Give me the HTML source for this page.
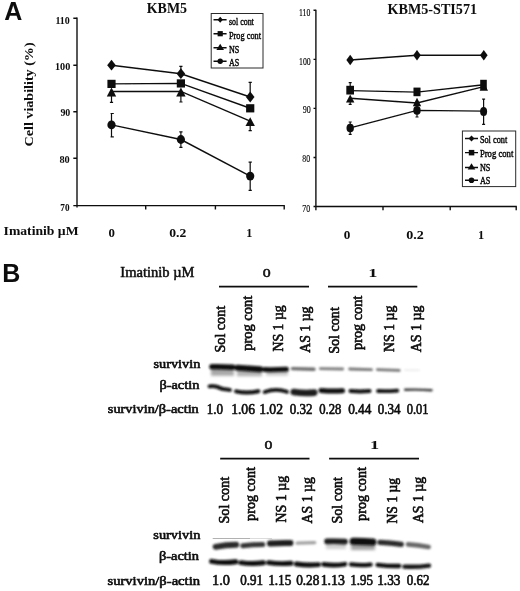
<!DOCTYPE html>
<html>
<head>
<meta charset="utf-8">
<title>Figure</title>
<style>
html,body{margin:0;padding:0;background:#fff;}
body{width:520px;height:591px;overflow:hidden;font-family:"Liberation Serif",serif;}
svg{display:block;}
svg text{font-family:"Liberation Serif",serif;fill:#0a0a0a;}
.sans{font-family:"Liberation Sans",sans-serif;font-weight:bold;}
.b{font-weight:bold;}
.tx text{stroke:#0a0a0a;stroke-width:0.6;stroke-linejoin:round;}
.lt text{stroke:#0a0a0a;stroke-width:0.45;}
.rt text{stroke:#0a0a0a;stroke-width:0.15;}
.ln{stroke:#111;stroke-width:1.45;fill:none;}
.eb{stroke:#111;stroke-width:1.2;fill:none;}
.ax{stroke:#111;stroke-width:1.4;fill:none;}
.mk{fill:#0c0c0c;stroke:none;}
</style>
</head>
<body>
<svg id="fig" width="520" height="591" viewBox="0 0 520 591">
<defs>
<filter id="bl1" x="-20%" y="-200%" width="140%" height="500%"><feGaussianBlur stdDeviation="0.9"/></filter>
<filter id="bl2" x="-20%" y="-200%" width="140%" height="500%"><feGaussianBlur stdDeviation="1.6"/></filter>
<filter id="tb" x="-10%" y="-10%" width="120%" height="120%"><feGaussianBlur stdDeviation="0.35"/></filter>
<filter id="soft" x="0" y="0" width="520" height="591" filterUnits="userSpaceOnUse"><feGaussianBlur stdDeviation="0.38"/></filter>
</defs>
<rect x="0" y="0" width="520" height="591" fill="#ffffff"/>
<g id="all" filter="url(#soft)">

<!-- ================= PANEL A : LEFT CHART ================= -->
<g id="chartL">
<text class="sans" x="4.2" y="19.7" font-size="25">A</text>
<text class="b" x="146.8" y="12.5" font-size="14.2" textLength="40.2" lengthAdjust="spacingAndGlyphs">KBM5</text>
<!-- axes -->
<path class="ax" d="M77 17.6 V207.4 M77 205.6 H284.8"/>
<path class="ax" d="M77 18.3 h-3.7 M77 65.2 h-3.7 M77 111.8 h-3.7 M77 158.3 h-3.7 M77 205.6 h-3.7"/>
<path class="ax" d="M145.7 205.6 v3.8 M215.4 205.6 v3.8 M284.2 205.6 v3.8"/>
<!-- y labels -->
<g class="b" font-size="11.2">
<text x="55.4" y="23.6" textLength="14.4" lengthAdjust="spacingAndGlyphs">110</text>
<text x="55" y="69.7" textLength="15.3" lengthAdjust="spacingAndGlyphs">100</text>
<text x="60.4" y="116.1" textLength="9.9" lengthAdjust="spacingAndGlyphs">90</text>
<text x="59.4" y="163.1" textLength="10.3" lengthAdjust="spacingAndGlyphs">80</text>
<text x="60.3" y="210.6" textLength="9.2" lengthAdjust="spacingAndGlyphs">70</text>
</g>
<text class="b" font-size="13.5" transform="translate(32.6 146.4) rotate(-90)" textLength="104" lengthAdjust="spacingAndGlyphs">Cell viability (%)</text>
<!-- x labels -->
<g class="b" font-size="12">
<text x="3.6" y="234.5" font-size="13.5" textLength="75" lengthAdjust="spacingAndGlyphs">Imatinib µM</text>
<text x="111.6" y="237.2" text-anchor="middle" font-size="12.2" textLength="6.4" lengthAdjust="spacingAndGlyphs">0</text>
<text x="177.7" y="237.2" text-anchor="middle" font-size="12.2" textLength="17" lengthAdjust="spacingAndGlyphs">0.2</text>
<text x="249.3" y="237.2" text-anchor="middle" font-size="12.2">1</text>
</g>
<!-- series lines -->
<path class="ln" d="M111.5 65.2 L180.9 73.7 L250.2 97"/>
<path class="ln" d="M111.5 83.9 L180.9 83.4 L250.2 108.3"/>
<path class="ln" d="M111.5 91.4 L180.9 91.4 L250.2 121.2"/>
<path class="ln" d="M111.5 124.9 L180.9 139.5 L250.2 176.1"/>
<!-- error bars -->
<path class="eb" d="M111.5 91 V102.3 M109.9 102.3 h3.2"/>
<path class="eb" d="M180.9 66.4 V73 M179.3 66.4 h3.2  M180.9 92 V102 M179.3 102 h3.2"/>
<path class="eb" d="M250.2 82.3 V97 M248.6 82.3 h3.2  M250.2 121 V130.6 M248.6 130.6 h3.2"/>
<path class="eb" d="M111.5 113.5 V136.8 M110.6 113.5 h3.2 M110.6 136.8 h3.2"/>
<path class="eb" d="M180.9 131.8 V147.3 M179.3 131.8 h3.2 M179.3 147.3 h3.2"/>
<path class="eb" d="M250.2 162.2 V190.4 M248.6 162.2 h3.2 M248.6 190.4 h3.2"/>
<!-- markers -->
<g class="mk">
<path d="M111.5 59.8 l4.3 5.4 l-4.3 5.4 l-4.3 -5.4z"/>
<path d="M180.9 68.3 l4.3 5.4 l-4.3 5.4 l-4.3 -5.4z"/>
<path d="M250.2 91.6 l4.3 5.4 l-4.3 5.4 l-4.3 -5.4z"/>
<rect x="107.4" y="79.8" width="8.2" height="8.2"/>
<rect x="176.8" y="79.3" width="8.2" height="8.2"/>
<rect x="246.1" y="104.2" width="8.2" height="8.2"/>
<path d="M111.5 87.6 l4.7 8.8 h-9.4z"/>
<path d="M180.9 87.6 l4.7 8.8 h-9.4z"/>
<path d="M250.2 117.2 l4.7 8.8 h-9.4z"/>
<ellipse cx="111.5" cy="124.9" rx="4.1" ry="4.4"/>
<ellipse cx="180.9" cy="139.5" rx="4.1" ry="4.4"/>
<ellipse cx="250.2" cy="176.1" rx="4.1" ry="4.4"/>
</g>
<!-- legend -->
<rect x="211.2" y="13.5" width="51.8" height="54.5" fill="#fff" stroke="#2a2a2a" stroke-width="1"/>
<g id="legL">
<path class="ln" d="M213.5 19.8 h13.1 M213.5 33.7 h13.1 M213.5 47.8 h13.1 M213.5 61.3 h13.1" stroke-width="1.2"/>
<path class="mk" d="M220.2 16.8 l2.7 3 l-2.7 3 l-2.7 -3z"/>
<rect class="mk" x="217.6" y="31.1" width="5.2" height="5.2"/>
<path class="mk" d="M220.2 43.8 l3.8 6.2 h-7.6z"/>
<circle class="mk" cx="220.2" cy="61.3" r="2.7"/>
<g font-size="10.5" class="lt">
<text x="229" y="25.2" textLength="24.8" lengthAdjust="spacingAndGlyphs">sol cont</text>
<text x="229" y="38.6" textLength="32" lengthAdjust="spacingAndGlyphs">Prog cont</text>
<text x="229" y="52.8" textLength="10.3" lengthAdjust="spacingAndGlyphs">NS</text>
<text x="229" y="65.6" textLength="10.3" lengthAdjust="spacingAndGlyphs">AS</text>
</g>
</g>
</g>

<!-- ================= PANEL A : RIGHT CHART ================= -->
<g id="chartR">
<text class="b" x="387.5" y="13.75" font-size="14" textLength="89.6" lengthAdjust="spacingAndGlyphs">KBM5-STI571</text>
<path class="ax" d="M315.9 9.8 V210.2 M315.9 206.5 H516.8" stroke-width="1.4"/>
<path class="ax" d="M315.9 10.3 h-2.4 M315.9 59.35 h-2.4 M315.9 108.4 h-2.4 M315.9 157.45 h-2.4 M315.9 206.5 h-2.4" stroke-width="1.2"/>
<path class="ax" d="M383 206.5 v3.8 M450.2 206.5 v3.8 M516.2 206.5 v3.8" stroke-width="1.3"/>
<g font-size="11.2" class="rt">
<text x="299" y="15.8" textLength="11.3" lengthAdjust="spacingAndGlyphs">110</text>
<text x="299" y="64.6" textLength="11.7" lengthAdjust="spacingAndGlyphs">100</text>
<text x="302.7" y="113.4" textLength="8" lengthAdjust="spacingAndGlyphs">90</text>
<text x="302.3" y="162" textLength="7.8" lengthAdjust="spacingAndGlyphs">80</text>
<text x="302.3" y="211.5" textLength="7.8" lengthAdjust="spacingAndGlyphs">70</text>
</g>
<g class="b" font-size="12" text-anchor="middle">
<text x="347" y="239" font-size="12.4" textLength="6.6" lengthAdjust="spacingAndGlyphs">0</text>
<text x="415" y="239" font-size="12.4" textLength="17.6" lengthAdjust="spacingAndGlyphs">0.2</text>
<text x="481.2" y="239" font-size="12.4">1</text>
</g>
<path class="ln" d="M350.2 60 L417 55.2 L483.8 55.2"/>
<path class="ln" d="M350.2 90.6 L417 92.1 L483.8 84.8"/>
<path class="ln" d="M350.2 98.3 L417 103 L483.8 86.6"/>
<path class="ln" d="M350.2 127.9 L417 110.4 L483.8 111.1"/>
<path class="eb" d="M350.2 82.6 V90 M348.7 82.6 h3 M350.2 98 V104.3 M348.7 104.3 h3"/>
<path class="eb" d="M350.2 122 V134.4 M348.7 122 h3 M348.7 134.4 h3"/>
<path class="eb" d="M417 102 V117 M415.5 102 h3 M415.5 117 h3"/>
<path class="eb" d="M483.6 99.2 V124.3 M482.1 99.2 h3 M482.1 124.3 h3"/>
<g class="mk">
<path d="M350.2 54.8 l3.8 5.2 l-3.8 5.2 l-3.8 -5.2z"/>
<path d="M417 50 l3.8 5.2 l-3.8 5.2 l-3.8 -5.2z"/>
<path d="M483.8 50 l3.8 5.2 l-3.8 5.2 l-3.8 -5.2z"/>
<rect x="346.3" y="85.8" width="7.7" height="8.7"/>
<rect x="413.5" y="87.6" width="7" height="8.6"/>
<rect x="480.2" y="79.8" width="6.6" height="9.6"/>
<path d="M350.2 94.5 l4.2 8 h-8.4z"/>
<path d="M417 97.8 l4.2 8.4 h-8.4z"/>
<path d="M483.8 82.8 l4.2 8 h-8.4z"/>
<ellipse cx="350.2" cy="128.1" rx="3.7" ry="4.3"/>
<ellipse cx="417" cy="110.4" rx="3.7" ry="4.3"/>
<ellipse cx="483.6" cy="111.4" rx="3.5" ry="4.5"/>
</g>
<rect x="462.4" y="131" width="53.3" height="55.6" fill="#fff" stroke="#2a2a2a" stroke-width="1"/>
<g id="legR">
<path class="ln" d="M465 138.5 h13 M465 152.6 h13 M465 167.4 h13 M465 180.2 h13" stroke-width="1.2"/>
<path class="mk" d="M471.5 135.4 l2.9 3.1 l-2.9 3.1 l-2.9 -3.1z"/>
<rect class="mk" x="468.8" y="149.9" width="5.5" height="5.5"/>
<path class="mk" d="M471.5 163.2 l3.8 6.2 h-7.6z"/>
<circle class="mk" cx="471.5" cy="180.2" r="2.8"/>
<g font-size="10.5" class="lt">
<text x="479.9" y="142.5" textLength="27.3" lengthAdjust="spacingAndGlyphs">Sol cont</text>
<text x="479.9" y="156.6" textLength="33.4" lengthAdjust="spacingAndGlyphs">Prog cont</text>
<text x="479.9" y="170.8" textLength="10.5" lengthAdjust="spacingAndGlyphs">NS</text>
<text x="479.9" y="184.2" textLength="10.5" lengthAdjust="spacingAndGlyphs">AS</text>
</g>
</g>
</g>

<!-- ================= PANEL B ================= -->
<g id="panelB">
<text class="sans" x="2.2" y="282.1" font-size="25">B</text>
<g class="tx" font-size="11">
<text x="120.3" y="276.7" font-size="13.6" textLength="74.2" lengthAdjust="spacingAndGlyphs" style="stroke-width:0.45">Imatinib µM</text>
<text x="262.7" y="277" font-size="12.6" textLength="7.9" lengthAdjust="spacingAndGlyphs" style="stroke-width:0.5">0</text>
<text x="368.2" y="276.9" font-size="12.8" font-weight="bold" textLength="9.2" lengthAdjust="spacingAndGlyphs" style="stroke-width:0">1</text>
<text x="264.4" y="449.1" font-size="12.6" textLength="7.9" lengthAdjust="spacingAndGlyphs" style="stroke-width:0.5">0</text>
<text x="370" y="448.9" font-size="12.8" font-weight="bold" textLength="9.2" lengthAdjust="spacingAndGlyphs" style="stroke-width:0">1</text>
</g>
<path d="M219 286.7 H309 M328 286.7 H417.3 M220.2 458.6 H309.5 M329.1 458.6 H419" stroke="#111" stroke-width="1.7"/>
<g class="tx" font-size="13.8">
<text transform="translate(225.4 352.5) rotate(-90)" textLength="46.6" lengthAdjust="spacingAndGlyphs">Sol cont</text>
<text transform="translate(252.3 350.8) rotate(-90)" textLength="55.1" lengthAdjust="spacingAndGlyphs">prog cont</text>
<text transform="translate(283.2 351.6) rotate(-90)" textLength="46.4" lengthAdjust="spacingAndGlyphs">NS 1 µg</text>
<text transform="translate(309.6 352.8) rotate(-90)" textLength="46.3" lengthAdjust="spacingAndGlyphs">AS 1 µg</text>
<text transform="translate(338.5 353.8) rotate(-90)" textLength="46.6" lengthAdjust="spacingAndGlyphs">Sol cont</text>
<text transform="translate(362.4 350.0) rotate(-90)" textLength="54.3" lengthAdjust="spacingAndGlyphs">prog cont</text>
<text transform="translate(394.3 352.0) rotate(-90)" textLength="46.4" lengthAdjust="spacingAndGlyphs">NS 1 µg</text>
<text transform="translate(421 352.3) rotate(-90)" textLength="46.8" lengthAdjust="spacingAndGlyphs">AS 1 µg</text>
<text transform="translate(228.9 523.5) rotate(-90)" textLength="46.6" lengthAdjust="spacingAndGlyphs">Sol cont</text>
<text transform="translate(255.1 520.9) rotate(-90)" textLength="53.8" lengthAdjust="spacingAndGlyphs">prog cont</text>
<text transform="translate(285.5 522.4) rotate(-90)" textLength="46.5" lengthAdjust="spacingAndGlyphs">NS 1 µg</text>
<text transform="translate(312.1 523.4) rotate(-90)" textLength="46.2" lengthAdjust="spacingAndGlyphs">AS 1 µg</text>
<text transform="translate(341.5 523.5) rotate(-90)" textLength="46.3" lengthAdjust="spacingAndGlyphs">Sol cont</text>
<text transform="translate(366.3 520.9) rotate(-90)" textLength="53.8" lengthAdjust="spacingAndGlyphs">prog cont</text>
<text transform="translate(396.7 523.5) rotate(-90)" textLength="45.6" lengthAdjust="spacingAndGlyphs">NS 1 µg</text>
<text transform="translate(423.3 523.1) rotate(-90)" textLength="46.3" lengthAdjust="spacingAndGlyphs">AS 1 µg</text>
</g>
<g class="tx" font-size="12.6">
<text x="153.5" y="368.3" textLength="46.8" lengthAdjust="spacingAndGlyphs">survivin</text>
<text x="159.4" y="389.3" textLength="40" lengthAdjust="spacingAndGlyphs">β-actin</text>
<text x="107.8" y="413.1" textLength="91" lengthAdjust="spacingAndGlyphs">survivin/β-actin</text>
<text x="153.3" y="539.1" textLength="47" lengthAdjust="spacingAndGlyphs">survivin</text>
<text x="159" y="560.3" textLength="40" lengthAdjust="spacingAndGlyphs">β-actin</text>
<text x="107.5" y="585" textLength="92.5" lengthAdjust="spacingAndGlyphs">survivin/β-actin</text>
</g>
<g class="tx" font-size="13.8" id="nums">
<text x="206.71" y="413.5" textLength="16.21" lengthAdjust="spacingAndGlyphs">1.0</text>
<text x="231.16" y="413.5" textLength="23.77" lengthAdjust="spacingAndGlyphs">1.06</text>
<text x="259.13" y="413.5" textLength="23.82" lengthAdjust="spacingAndGlyphs">1.02</text>
<text x="289.70" y="413.5" textLength="22.72" lengthAdjust="spacingAndGlyphs">0.32</text>
<text x="319.22" y="413.5" textLength="22.19" lengthAdjust="spacingAndGlyphs">0.28</text>
<text x="348.20" y="413.5" textLength="23.19" lengthAdjust="spacingAndGlyphs">0.44</text>
<text x="377.66" y="413.5" textLength="22.79" lengthAdjust="spacingAndGlyphs">0.34</text>
<text x="406.68" y="413.5" textLength="21.72" lengthAdjust="spacingAndGlyphs">0.01</text>
<text x="212.09" y="585.0" textLength="17.88" lengthAdjust="spacingAndGlyphs">1.0</text>
<text x="240.18" y="585.0" textLength="22.73" lengthAdjust="spacingAndGlyphs">0.91</text>
<text x="268.16" y="585.0" textLength="23.25" lengthAdjust="spacingAndGlyphs">1.15</text>
<text x="296.16" y="585.0" textLength="23.27" lengthAdjust="spacingAndGlyphs">0.28</text>
<text x="320.70" y="585.0" textLength="24.20" lengthAdjust="spacingAndGlyphs">1.13</text>
<text x="350.21" y="585.0" textLength="22.68" lengthAdjust="spacingAndGlyphs">1.95</text>
<text x="377.20" y="585.0" textLength="23.20" lengthAdjust="spacingAndGlyphs">1.33</text>
<text x="406.69" y="585.0" textLength="22.73" lengthAdjust="spacingAndGlyphs">0.62</text>
</g>
<g id="blot1">
<g filter="url(#bl2)">
<rect x="211" y="368" width="23" height="7.8" fill="#a8a8a8"/>
<rect x="237" y="369.5" width="25" height="6.8" fill="#b2b2b2"/>
<rect x="266" y="371" width="22" height="4.5" fill="#c4c4c4"/>
</g>
<g filter="url(#bl1)">
<path d="M212.0 366.8 Q222.3 366.6 232.7 367.2" stroke="#0c0c0c" stroke-width="5.6" stroke-linecap="round" fill="none"/>
<path d="M237.5 367.8 Q248.8 368.7 260.0 369.2" stroke="#0c0c0c" stroke-width="6.0" stroke-linecap="round" fill="none"/>
<path d="M264.5 369.6 Q275.4 369.8 286.4 369.2" stroke="#0e0e0e" stroke-width="5.0" stroke-linecap="round" fill="none"/>
<path d="M292.4 368.6 Q303.2 368.9 314.0 369.2" stroke="#6c6c6c" stroke-width="3.4" stroke-linecap="round" fill="none"/>
<path d="M320.3 368.6 Q331.5 368.8 342.7 369.0" stroke="#7c7c7c" stroke-width="2.8" stroke-linecap="round" fill="none"/>
<path d="M349.7 369.0 Q360.6 369.3 371.5 369.6" stroke="#767676" stroke-width="2.9" stroke-linecap="round" fill="none"/>
<path d="M377.4 369.6 Q388.3 370.0 399.2 370.4" stroke="#767676" stroke-width="2.9" stroke-linecap="round" fill="none"/>
<path d="M404.8 370.0 Q412.0 370.1 419.2 370.3" stroke="#eaeaea" stroke-width="1.6" stroke-linecap="round" fill="none"/>
<path d="M209.5 386.3 C214 385.6 217 386.2 220 388 S226 389 230 390" stroke="#0a0a0a" stroke-width="3.8" stroke-linecap="round" fill="none"/>
<path d="M236.1 391.4 Q247.2 393.8 258.4 391.2" stroke="#0a0a0a" stroke-width="4.0" stroke-linecap="round" fill="none"/>
<path d="M264.7 392 Q275.9 387.8 287.0 391.8" stroke="#0a0a0a" stroke-width="3.8" stroke-linecap="round" fill="none"/>
<path d="M293.8 392.0 Q304.0 393.5 314.2 392.6" stroke="#1c1c1c" stroke-width="6.6" stroke-linecap="round" fill="none"/>
<path d="M321.0 390.4 Q331.8 391.6 342.5 390.8" stroke="#080808" stroke-width="5.0" stroke-linecap="round" fill="none"/>
<path d="M350.5 391.0 Q360.0 391.8 369.5 391.0" stroke="#0a0a0a" stroke-width="4.0" stroke-linecap="round" fill="none"/>
<path d="M378.1 391.0 Q387.7 391.4 397.3 390.6" stroke="#0a0a0a" stroke-width="3.8" stroke-linecap="round" fill="none"/>
<path d="M405.1 389.8 Q418.3 389.2 431.5 390.2" stroke="#3a3a3a" stroke-width="2.4" stroke-linecap="round" fill="none"/>
</g>
</g>
<g id="blot2">
<path d="M212.7 538.5 H250" stroke="#a8a8a8" stroke-width="0.9"/>
<path d="M250 538.5 H272" stroke="#d8d8d8" stroke-width="0.9"/>
<g filter="url(#bl2)">
<rect x="326" y="543" width="20" height="6" fill="#d0d0d0"/>
<rect x="351" y="544" width="24" height="6" fill="#a0a0a0"/>
</g>
<g filter="url(#bl1)">
<path d="M215.6 546.8 Q225.9 545.0 236.2 544.8" stroke="#2a2a2a" stroke-width="5.9" stroke-linecap="round" fill="none"/>
<path d="M242.8 545.7 Q252.8 544.7 262.8 544.6" stroke="#363636" stroke-width="5.0" stroke-linecap="round" fill="none"/>
<path d="M270.0 543.6 Q280.2 542.7 290.5 543.0" stroke="#1a1a1a" stroke-width="6.0" stroke-linecap="round" fill="none"/>
<path d="M297.1 543.2 Q305.9 542.9 314.7 542.6" stroke="#a0a0a0" stroke-width="3.3" stroke-linecap="round" fill="none"/>
<path d="M327.0 541.4 Q336.0 541.1 345.0 541.6" stroke="#1a1a1a" stroke-width="5.6" stroke-linecap="round" fill="none"/>
<path d="M353.2 541.4 Q363.0 541.3 372.8 542.0" stroke="#0c0c0c" stroke-width="7.2" stroke-linecap="round" fill="none"/>
<path d="M379.9 542.4 Q390.6 543.0 401.3 544.4" stroke="#2a2a2a" stroke-width="5.2" stroke-linecap="round" fill="none"/>
<path d="M408.0 544.4 Q418.3 545.3 428.6 547.0" stroke="#686868" stroke-width="4.6" stroke-linecap="round" fill="none"/>
<path d="M211.6 561.4 Q223.6 563.6 235.8 561.8" stroke="#0a0a0a" stroke-width="5.0" stroke-linecap="round" fill="none"/>
<path d="M240.8 562.6 Q252.1 564.3 263.4 562.8" stroke="#0a0a0a" stroke-width="4.9" stroke-linecap="round" fill="none"/>
<path d="M268.6 562.6 Q279.8 564.3 291 563.2" stroke="#0a0a0a" stroke-width="4.9" stroke-linecap="round" fill="none"/>
<path d="M296.4 564.0 Q307.3 565.7 318.4 564.6" stroke="#0c0c0c" stroke-width="4.9" stroke-linecap="round" fill="none"/>
<path d="M323.6 564.4 Q334.2 565.9 344.9 564.2" stroke="#0a0a0a" stroke-width="4.7" stroke-linecap="round" fill="none"/>
<path d="M351 564.4 Q360.7 565.8 370.6 564.6" stroke="#0c0c0c" stroke-width="4.2" stroke-linecap="round" fill="none"/>
<path d="M377.6 564.8 Q388.4 566.2 399.2 566.0" stroke="#0c0c0c" stroke-width="4.3" stroke-linecap="round" fill="none"/>
<path d="M404.4 566.6 Q416.6 567.3 429 565.6" stroke="#141414" stroke-width="4.4" stroke-linecap="round" fill="none"/>
</g>
</g>
</g>
</g>
</svg>
</body>
</html>
